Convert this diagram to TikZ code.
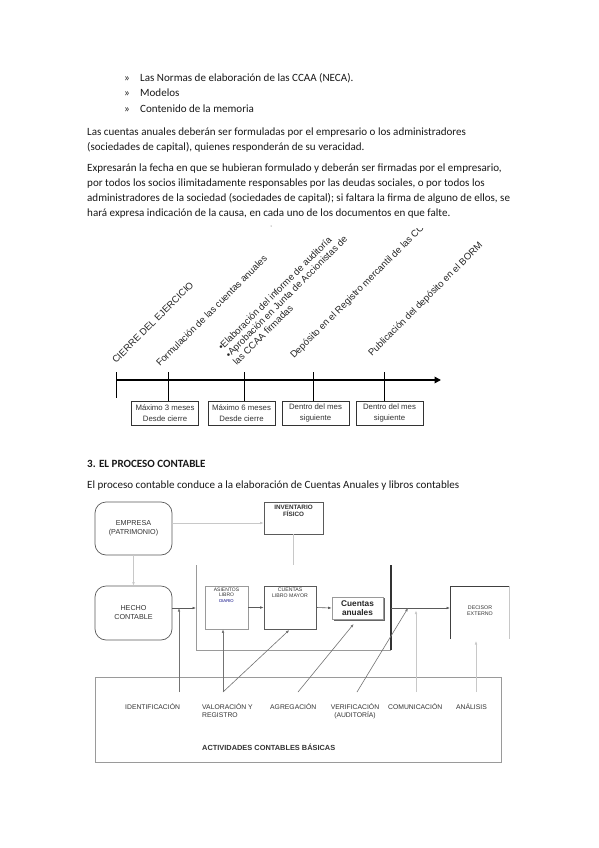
\documentclass[tikz,border=0pt]{standalone}
\usepackage{fontspec}
\setmainfont{Carlito}
\newfontfamily\arialf{Liberation Sans}
\usetikzlibrary{arrows.meta}
\definecolor{lnA}{HTML}{5A5A5A}
\definecolor{lnB}{HTML}{9A9A9A}
\definecolor{lnC}{HTML}{C8C8C8}
\definecolor{txD}{HTML}{333333}
\begin{document}
\begin{tikzpicture}[x=1pt,y=-1pt,
  body/.style={anchor=base west, inner sep=0pt, font=\fontsize{11.05}{12}\selectfont, text=black!90},
  tlab/.style={anchor=base west, inner sep=0pt, rotate=45, font=\arialf\fontsize{9.5}{10.5}\selectfont, text=black!85},
  tbox/.style={draw=black!80, line width=0.6pt, minimum width=67pt, minimum height=24pt, inner sep=1pt, align=center, font=\arialf\fontsize{7.8}{11}\selectfont, text=black!80},
  dbox/.style={draw=lnA, line width=0.6pt, inner sep=0pt},
  rbox/.style={draw=lnA, line width=0.7pt, rounded corners=11pt, inner sep=0pt, align=center, font=\arialf\fontsize{7.2}{9}\selectfont, text=txD},
  btxt/.style={anchor=north, inner sep=1.5pt, align=center, text=txD},
  alab/.style={anchor=base west, inner sep=0pt, align=left, font=\arialf\fontsize{6.8}{8}\selectfont, text=txD},
  con/.style={draw=lnA, line width=0.6pt},
  lcon/.style={draw=lnC, line width=0.6pt},
  arr/.style={-{Latex[length=3.5pt,width=2.6pt]}},
]
\useasboundingbox (0,0) rectangle (599,848);
\fill[white] (0,0) rectangle (599,848);

% ---------- body text ----------
\node[body] (bu1) at (124,81.5) {»};
\node[body] (l1) at (140,81.5) {Las Normas de elaboración de las CCAA (NECA).};
\node[body] (bu2) at (124,97) {»};
\node[body] (l2) at (140,97) {Modelos};
\node[body] (bu3) at (124,112.5) {»};
\node[body] (l3) at (140,112.5) {Contenido de la memoria};
\node[body] (p1) at (87,135.5) {Las cuentas anuales deberán ser formuladas por el empresario o los administradores};
\node[body] (p2) at (87,150.5) {(sociedades de capital), quienes responderán de su veracidad.};
\node[body] (q1) at (87,171.5) {Expresarán la fecha en que se hubieran formulado y deberán ser firmadas por el empresario,};
\node[body] (q2) at (87,186.5) {por todos los socios ilimitadamente responsables por las deudas sociales, o por todos los};
\node[body] (q3) at (87,201.5) {administradores de la sociedad (sociedades de capital); si faltara la firma de alguno de ellos, se};
\node[body] (q4) at (87,216.5) {hará expresa indicación de la causa, en cada uno de los documentos en que falte.};

% ---------- timeline ----------
\fill[black!70] (271,226) circle (0.5pt);
\begin{scope}
\clip (100,228) rectangle (520,440);
\node[tlab] (r1) at (116,364) {CIERRE DEL EJERCICIO};
\node[tlab] (r2) at (160,367) {Formulación de las cuentas anuales};
\node[tlab, anchor=south west, align=left] (r3) at (237,366) {•Elaboración del informe de auditoría\\•Aprobación en Junta de Accionistas de\\las CCAA firmadas};
\node[tlab] (r4) at (294,359) {Depósito en el Registro mercantil de las CCAA};
\node[tlab] (r5) at (372,357) {Publicación del depósito en el BORM};
\end{scope}

\coordinate (t0) at (116,380);
\coordinate (tend) at (441,380);
\draw[line width=2.6pt, -{Triangle[length=6.5pt,width=6.5pt]}] (t0) -- (tend);
\coordinate (k0) at (116,372);
\coordinate (k0b) at (116,398);
\draw[line width=0.7pt] (k0) -- (k0b);

\node[tbox] (b1) at (165,413) {Máximo 3 meses\\Desde cierre};
\node[tbox] (b2) at (241.5,413) {Máximo 6 meses\\Desde cierre};
\node[tbox] (b3) at (315.5,413) {Dentro del mes\\siguiente};
\node[tbox] (b4) at (389.5,413) {Dentro del mes\\siguiente};
\coordinate (k1) at (168,372);
\coordinate (k2) at (244,372);
\coordinate (k3) at (313,372);
\coordinate (k4) at (384,372);
\draw[line width=0.7pt] (k1) -- (k1 |- b1.north);
\draw[line width=0.7pt] (k2) -- (k2 |- b2.north);
\draw[line width=0.7pt] (k3) -- (k3 |- b3.north);
\draw[line width=0.7pt] (k4) -- (k4 |- b4.north);

% ---------- section ----------
\node[body, font=\bfseries\fontsize{11.05}{12}\selectfont] (h3) at (87,467) {3. EL PROCESO CONTABLE};
\node[body] (h3t) at (87,488.5) {El proceso contable conduce a la elaboración de Cuentas Anuales y libros contables};

% ---------- diagram ----------
\node[rbox, minimum width=77pt, minimum height=53pt] (emp) at (133.5,528.5) {EMPRESA\\(PATRIMONIO)};
\node[dbox, minimum width=59pt, minimum height=32pt] (inv) at (293.5,518) {};
\node[btxt, inner sep=3pt, font=\arialf\bfseries\fontsize{6.3}{7.5}\selectfont] (invt) at (inv.north) {INVENTARIO\\FÍSICO};
\node[rbox, minimum width=77pt, minimum height=54pt] (hech) at (133.5,613) {HECHO\\CONTABLE};

% U frame
\coordinate (ua) at (196,565);
\coordinate (ub) at (196,650);
\coordinate (uc) at (391,650);
\coordinate (ud) at (391,565);
\draw[draw=lnB, line width=0.7pt] (ua) -- (ub) -- (uc);
\draw[draw=black!80, line width=1.3pt] (ud) -- (uc);

\node[dbox, draw=lnB, minimum width=43pt, minimum height=43pt] (as) at (226.5,607.5) {};
\node[btxt, inner sep=2pt, font=\arialf\fontsize{5}{5.6}\selectfont] (ast) at (as.north) {ASIENTOS\\LIBRO\\{\color{blue!50!black}\fontsize{4.2}{5}\selectfont DIARIO}};
\node[dbox, minimum width=52pt, minimum height=43pt] (cu) at (290,607.5) {};
\node[btxt, inner sep=2pt, font=\arialf\fontsize{5.2}{5.8}\selectfont] (cut) at (cu.north) {CUENTAS\\LIBRO MAYOR};
\draw[draw=black!60, line width=1.2pt] (333.5,620) -- (384,620) -- (384,598);
\node[dbox, draw=lnB, minimum width=51pt, minimum height=22pt, align=center, font=\arialf\bfseries\fontsize{8.3}{9.3}\selectfont, text=black!85] (ca) at (357.5,608) {Cuentas\\anuales};

% decisor
\coordinate (dA) at (450,639);
\coordinate (dB) at (450,586);
\coordinate (dC) at (509,586);
\coordinate (dD) at (509,639);
\draw[draw=black!75, line width=0.8pt] (dA) -- (dB) -- (dC);
\draw[draw=lnC, line width=0.6pt] (dC) -- (dD);
\node[inner sep=0pt, align=center, font=\arialf\fontsize{5.3}{6.2}\selectfont, text=txD] (dec) at (480,611) {DECISOR\\EXTERNO};

% activities box
\node[draw=lnB, line width=0.7pt, minimum width=406pt, minimum height=85pt, inner sep=0pt] (act) at (298,719.5) {};
\node[alab] (a1) at (125,709.5) {IDENTIFICACIÓN};
\node[alab] (a2) at (202,717.5) {VALORACIÓN Y\\REGISTRO};
\node[alab] (a3) at (270,709.5) {AGREGACIÓN};
\node[alab, anchor=base, align=center] (a4) at (355,717.5) {VERIFICACIÓN\\(AUDITORÍA)};
\node[alab] (a5) at (388,709.5) {COMUNICACIÓN};
\node[alab] (a6) at (456,709.5) {ANÁLISIS};
\node[alab, font=\arialf\bfseries\fontsize{7.4}{9}\selectfont] (a7) at (202,750) {ACTIVIDADES CONTABLES BÁSICAS};

% connectors
\coordinate (e1) at (172,523);
\draw[lcon, arr] (e1) -- (e1 -| inv.west);
\draw[lcon, arr] (emp.south) -- (hech.north);
\draw[lcon] (inv.south) -- (inv.south |- ua);
\coordinate (h1) at (172,608);
\draw[con, arr] (h1) -- (h1 -| ua);
\draw[con, arr] (as.east) -- (cu.west);
\draw[con, arr] (cu.east) -- (ca.west);
\coordinate (d1) at (391,608);
\draw[con, arr] (d1) -- (d1 -| dA);

\coordinate (s1) at (179,692);
\coordinate (s2) at (223,692);
\coordinate (s3) at (298,692);
\coordinate (s4) at (357,692);
\coordinate (s5) at (416,692);
\coordinate (s6) at (476,692);
\coordinate (v1) at (408,608);
\draw[draw=black!55, line width=0.6pt, arr] (s1) -- (s1 |- h1);
\draw[draw=black!55, line width=0.6pt, arr] (s2) -- (s2 |- as.south);
\draw[draw=black!55, line width=0.6pt, arr, shorten >=1pt] (s2) -- (cu.south);
\draw[draw=black!55, line width=0.6pt, arr, shorten >=6pt] (s3) -- (ca.south);
\draw[draw=black!55, line width=0.6pt, arr] (s4) -- (v1);
\draw[lcon, arr, shorten >=2.5pt] (s5) -- (s5 |- d1);
\draw[lcon, arr, shorten >=2pt] (s6) -- (s6 |- dA);
\end{tikzpicture}
\end{document}
